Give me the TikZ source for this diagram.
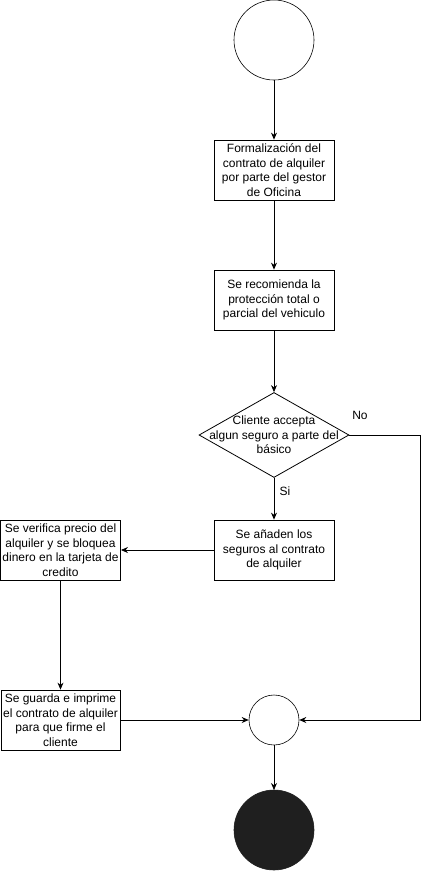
\documentclass[tikz,border=0pt]{standalone}
\usepackage{fontspec}
\setmainfont{Liberation Sans}
\usetikzlibrary{arrows.meta,shapes.geometric}
\tikzset{> = {Stealth[length=7pt,width=6pt]}, x=1pt, y=-1pt,
	every node/.style={font=\fontsize{12}{14.5}\selectfont, align=center},
	stepbox/.style={draw, line width=0.8pt, minimum width=120pt, minimum height=60pt, inner sep=2pt},
	decision/.style={draw, diamond, line width=0.8pt, minimum width=150pt, minimum height=85pt, inner sep=0pt},
	flow/.style={->, line width=0.8pt}}

\begin{document}
\begin{tikzpicture}
	\useasboundingbox (0,0) rectangle (429,871);
	\node[draw, circle, line width=0.6pt, minimum size=80pt, inner sep=0pt] (start) at (274,40) {};
	\node[stepbox] (formal) at (274,170) {Formalización del\\contrato de alquiler\\por parte del gestor\\de Oficina};
	\node[stepbox] (recom) at (274,300) {Se recomienda la\\protección total o\\parcial del vehiculo};
	\node[decision] (acepta) at (274,435) {};
	\node at (acepta) {Cliente accepta\\algun seguro a parte del\\básico};
	\node[stepbox] (anade) at (274,550) {Se añaden los\\seguros al contrato\\de alquiler};
	\node[stepbox, minimum width=119pt] (verifica) at (60.5,550) {Se verifica precio del\\alquiler y se bloquea\\dinero en la tarjeta de\\credito};
	\node[stepbox, minimum width=119pt] (guarda) at (60.5,720) {Se guarda e imprime\\el contrato de alquiler\\para que firme el\\cliente};
	\node[draw, circle, line width=0.6pt, minimum size=50pt, inner sep=0pt] (merge) at (274,720) {};
	\filldraw[fill=black!88, draw=black!88, line width=0.6pt] (274,830) circle (40) coordinate (fin);
	\coordinate (finTop) at (274,790);
	\node at (360,415) {No};
	\node at (285,491) {Si};

	\draw[flow] (start) -- (formal);
	\draw[flow] (formal) -- (recom);
	\draw[flow] (recom) -- (acepta);
	\draw[flow] (acepta) -- (anade);
	\draw[flow] (anade) -- (verifica);
	\draw[flow] (verifica) -- (guarda);
	\draw[flow] (guarda) -- (merge);
	\draw[flow] (acepta.east) -- ++(71,0) |- (merge.east);
	\draw[flow] (merge) -- (finTop);
\end{tikzpicture}
\end{document}
